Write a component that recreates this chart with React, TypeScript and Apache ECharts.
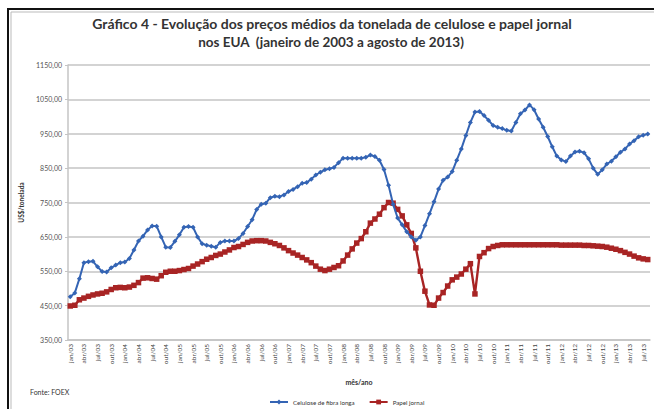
import React, { useEffect, useRef } from 'react';
import * as echarts from 'echarts';

const MONTHS = ['jan', 'fev', 'mar', 'abr', 'mai', 'jun', 'jul', 'ago', 'set', 'out', 'nov', 'dez'];
const YEARS = ['03', '04', '05', '06', '07', '08', '09', '10', '11', '12', '13'];
const N_MONTHS = 128;

const Y_TICKS = [350, 450, 550, 650, 750, 850, 950, 1050, 1150];

const TITLE_LINE_1 = 'Gráfico 4 - Evolução dos preços médios da tonelada de celulose e papel jornal';
const TITLE_LINE_2 = 'nos EUA  (janeiro de 2003 a agosto de 2013)';

const celulose = [
  476, 487, 528, 575, 578, 579, 563, 549, 548, 560,
  568, 575, 577, 587, 612, 638, 652, 670, 682, 681,
  650, 620, 619, 637, 656, 678, 680, 678, 650, 630,
  626, 623, 620, 634, 638, 638, 638, 645, 660, 680,
  700, 730, 745, 748, 764, 768, 767, 772, 782, 788,
  796, 806, 808, 818, 830, 838, 845, 848, 852, 866,
  879, 879, 879, 879, 879, 882, 888, 884, 873, 846,
  800, 745, 705, 685, 665, 650, 640, 650, 683, 717,
  752, 789, 815, 824, 840, 873, 906, 945, 983, 1013,
  1015, 1003, 989, 974, 969, 965, 960, 958, 983, 1008,
  1019, 1034, 1020, 993, 969, 942, 912, 885, 874, 869,
  885, 897, 899, 895, 877, 850, 832, 845, 862, 870,
  883, 896, 906, 920, 930, 941, 946, 949,
];

const papelJornal = [
  449, 451, 467, 472, 477, 481, 484, 486, 490, 497,
  502, 503, 502, 504, 509, 517, 530, 531, 529, 527,
  537, 547, 550, 550, 552, 555, 558, 565, 571, 578,
  585, 590, 596, 600, 606, 612, 619, 622, 628, 634,
  638, 639, 639, 638, 634, 630, 625, 618, 610, 603,
  597, 590, 583, 575, 565, 556, 552, 556, 561, 566,
  580, 597, 615, 632, 645, 665, 690, 702, 716, 735,
  750, 748, 730, 711, 685, 660, 618, 550, 492, 452,
  451, 472, 488, 507, 525, 533, 542, 556, 572, 484,
  593, 604, 616, 622, 625, 627, 627, 627, 627, 627,
  627, 627, 627, 627, 627, 627, 627, 627, 626, 626,
  626, 626, 626, 625, 625, 624, 623, 622, 620, 617,
  614, 610, 605, 600, 594, 589, 586, 584,
];

const categories: string[] = [];
for (const y of YEARS) for (const m of MONTHS) categories.push(`${m}/${y}`);
categories.length = N_MONTHS;

const FONT = 'Lato, "Open Sans", sans-serif';

export default function App() {
  const ref = useRef<HTMLDivElement>(null);
  useEffect(() => {
    if (!ref.current) return;
    const chart = echarts.init(ref.current, null, { renderer: 'svg' });
    chart.setOption({
      animation: false,
      backgroundColor: '#ffffff',
      graphic: [
        { type: 'rect', shape: { x: 8, y: 9, width: 700, height: 450 }, style: { fill: 'none', stroke: '#111', lineWidth: 2 }, silent: true },
        { type: 'rect', shape: { x: 11, y: 12, width: 700, height: 450 }, style: { fill: 'none', stroke: '#bbb', lineWidth: 1 }, silent: true },
        {
          type: 'text', x: 332, y: 23,
          style: { text: TITLE_LINE_1, fontFamily: FONT, fontSize: 14, fontWeight: 'bold', fill: '#333', align: 'center', verticalAlign: 'middle' },
        },
        {
          type: 'text', x: 331, y: 42,
          style: { text: TITLE_LINE_2, fontFamily: FONT, fontSize: 13.5, fontWeight: 'bold', fill: '#333', align: 'center', verticalAlign: 'middle' },
        },
        { type: 'text', left: 30, top: 388, style: { text: 'Fonte: FOEX', fontFamily: FONT, fontSize: 7, fill: '#333' } },
      ],
      legend: {
        top: 394,
        left: 264,
        itemWidth: 18,
        itemHeight: 6,
        itemGap: 14,
        textStyle: { fontFamily: FONT, fontSize: 6.2, color: '#333' },
        data: ['Celulose de fibra longa', 'Papel jornal'],
      },
      grid: { left: 68, right: 4, top: 65, bottom: 69 },
      xAxis: {
        type: 'category',
        data: categories,
        boundaryGap: true,
        name: 'mês/ano',
        nameLocation: 'middle',
        nameGap: 38,
        nameTextStyle: { fontFamily: FONT, fontSize: 7, fontWeight: 'bold', color: '#333' },
        axisLine: { lineStyle: { color: '#c4c4c4', width: 1.5 } },
        axisTick: { interval: 2, length: 3, alignWithLabel: true, lineStyle: { color: '#aaa' } },
        axisLabel: { interval: 2, rotate: 90, fontFamily: FONT, fontSize: 6.5, color: '#444', margin: 4 },
        splitLine: { show: false },
      },
      yAxis: {
        type: 'value',
        min: 350,
        max: 1150,
        name: 'US$/tonelada',
        nameLocation: 'middle',
        nameGap: 41,
        nameTextStyle: { fontFamily: FONT, fontSize: 6.5, fontWeight: 'bold', color: '#333' },
        axisLine: { show: true, lineStyle: { color: '#c4c4c4', width: 1.5 } },
        axisTick: { show: true, length: 3, customValues: Y_TICKS, lineStyle: { color: '#c4c4c4' } },
        axisLabel: {
          customValues: Y_TICKS,
          fontFamily: FONT,
          fontSize: 7,
          color: '#555',
          margin: 6,
          formatter: (v: number) => v.toFixed(2).replace('.', ','),
        },
        splitLine: { show: true, lineStyle: { color: '#c4c4c4', width: 1.5 } },
      },
      series: [
        {
          name: 'Celulose de fibra longa',
          type: 'line',
          data: celulose,
          color: '#3464b4',
          symbol: 'diamond',
          symbolSize: 5,
          showAllSymbol: true,
          lineStyle: { width: 2, color: '#3464b4' },
          itemStyle: { color: '#3464b4' },
          z: 3,
        },
        {
          name: 'Papel jornal',
          type: 'line',
          data: papelJornal,
          color: '#a82424',
          symbol: 'rect',
          symbolSize: 5.5,
          showAllSymbol: true,
          lineStyle: { width: 2.4, color: '#a82424' },
          itemStyle: { color: '#a82424' },
          z: 2,
        },
      ],
    });
    return () => chart.dispose();
  }, []);
  return <div ref={ref} style={{ position: 'absolute', left: 0, top: 0, width: 654, height: 409 }} />;
}
